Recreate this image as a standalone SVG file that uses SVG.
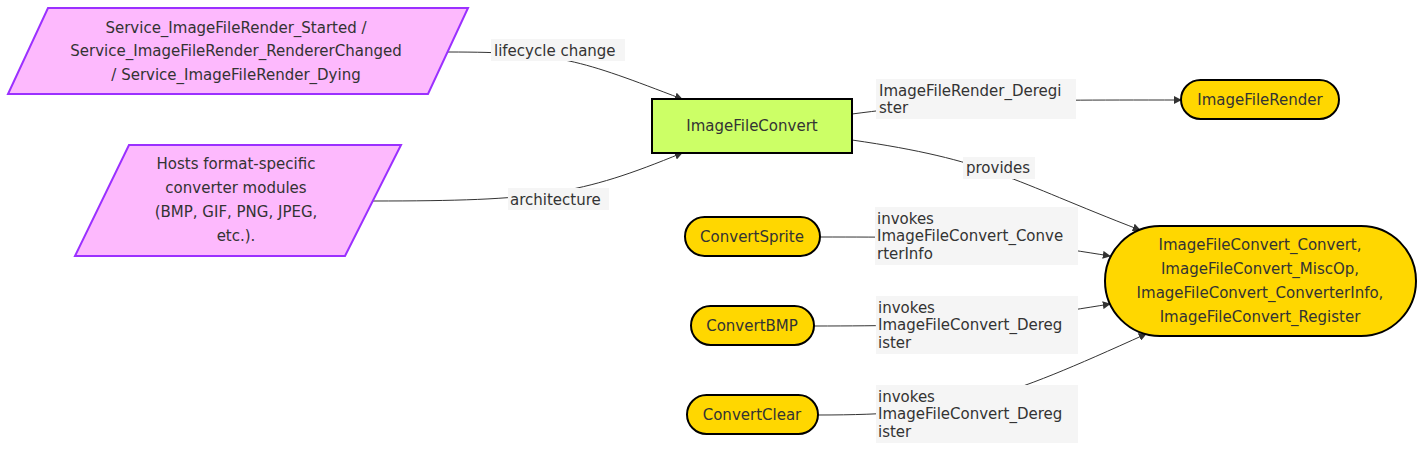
<svg xmlns="http://www.w3.org/2000/svg" width="1424" height="451" viewBox="0 0 1424 451">
<style>
text{font-family:"DejaVu Sans",sans-serif;font-size:15px;fill:#333}
.c{text-anchor:middle}
.para{fill:#fdb9fd;stroke:#9b30ff;stroke-width:2}
.pill{fill:#ffd700;stroke:#000;stroke-width:2}
.e{fill:none;stroke:#333;stroke-width:1}
.lb{fill:#f5f5f5}
</style>
<defs><marker id="a" viewBox="0 0 10 10" refX="9" refY="5" markerWidth="8" markerHeight="8" orient="auto"><path d="M0,0L10,5L0,10z" fill="#333"/></marker></defs>
<rect width="1424" height="451" fill="#fff"/>
<g id="connectors">
<path class="e" marker-end="url(#a)" d="M448,52C560,52 580,60 682,99"/>
<path class="e" marker-end="url(#a)" d="M373,201C540,201 580,195 682,153"/>
<path class="e" marker-end="url(#a)" d="M852,114C960,100 1000,100 1181,100"/>
<path class="e" marker-end="url(#a)" d="M852,140C990,160 1010,180 1140,230"/>
<path class="e" marker-end="url(#a)" d="M820,237C960,237 1000,238 1110,256"/>
<path class="e" marker-end="url(#a)" d="M814,326C960,326 1000,322 1110,304"/>
<path class="e" marker-end="url(#a)" d="M818,415C960,415 1000,400 1146,334"/>
<rect class="lb" x="491" y="39" width="134" height="22"/><text x="494" y="56">lifecycle change</text>
<rect class="lb" x="508" y="188" width="101" height="22"/><text x="510" y="205">architecture</text>
<rect class="lb" x="876" y="79" width="200" height="40"/><text x="879" y="96">ImageFileRender_Deregi</text><text x="879" y="113">ster</text>
<rect class="lb" x="963" y="157" width="72" height="22"/><text x="966" y="173">provides</text>
<rect class="lb" x="875" y="207" width="203" height="58"/><text x="877" y="224">invokes</text><text x="877" y="241">ImageFileConvert_Conve</text><text x="877" y="259">rterInfo</text>
<rect class="lb" x="876" y="296" width="202" height="58"/><text x="878" y="313">invokes</text><text x="878" y="330">ImageFileConvert_Dereg</text><text x="878" y="348">ister</text>
<rect class="lb" x="876" y="385" width="202" height="58"/><text x="878" y="402">invokes</text><text x="878" y="419">ImageFileConvert_Dereg</text><text x="878" y="437">ister</text>
</g>
<g id="n1"><polygon class="para" points="48,8 468,8 428,94 8,94"/><text class="c" x="236" y="57" dy="-24">Service_ImageFileRender_Started /</text><text class="c" x="236" y="56">Service_ImageFileRender_RendererChanged</text><text class="c" x="236" y="80">/ Service_ImageFileRender_Dying</text></g>
<g id="n2"><polygon class="para" points="129,145 401,145 345,256 75,256"/><text class="c" x="236" y="169">Hosts format-specific</text><text class="c" x="236" y="193">converter modules</text><text class="c" x="236" y="217">(BMP, GIF, PNG, JPEG,</text><text class="c" x="236" y="241">etc.).</text></g>
<g id="n3"><rect x="652" y="99" width="200" height="54" fill="#ccff66" stroke="#000" stroke-width="2"/><text class="c" x="752" y="131">ImageFileConvert</text></g>
<g id="n4"><rect class="pill" x="1181" y="80" width="158" height="39" rx="19.5"/><text class="c" x="1260" y="105">ImageFileRender</text></g>
<g id="n5"><rect class="pill" x="1105" y="226" width="311" height="110" rx="55"/><text class="c" x="1260" y="250">ImageFileConvert_Convert,</text><text class="c" x="1260" y="274">ImageFileConvert_MiscOp,</text><text class="c" x="1260" y="298">ImageFileConvert_ConverterInfo,</text><text class="c" x="1260" y="322">ImageFileConvert_Register</text></g>
<g id="n6"><rect class="pill" x="685" y="217" width="135" height="39" rx="19.5"/><text class="c" x="752" y="242">ConvertSprite</text></g>
<g id="n7"><rect class="pill" x="691" y="306" width="123" height="39" rx="19.5"/><text class="c" x="752" y="331">ConvertBMP</text></g>
<g id="n8"><rect class="pill" x="687" y="395" width="131" height="39" rx="19.5"/><text class="c" x="752" y="420">ConvertClear</text></g>
</svg>
